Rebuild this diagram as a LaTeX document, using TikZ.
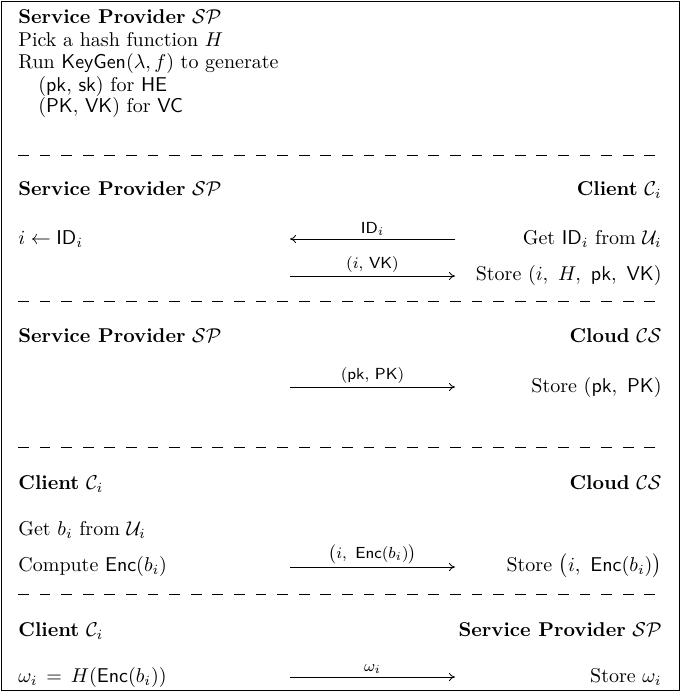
\documentclass[tikz,border=0pt]{standalone}
\usepackage{amsmath,amssymb}
\usetikzlibrary{arrows.meta,positioning}

\newcommand{\cSP}{\ensuremath{\mathcal{SP}}}
\newcommand{\cCS}{\ensuremath{\mathcal{CS}}}

\tikzset{
  lbl/.style={anchor=base west, inner sep=0pt},
  rbl/.style={anchor=base east, inner sep=0pt},
  msg/.style={-{To[length=3pt,width=4pt]}, line width=0.4pt},
  sepline/.style={dash pattern=on 5.4pt off 5.4pt, line width=0.4pt},
  tag/.style={font=\sffamily\footnotesize, above, inner sep=1.5pt}
}

\begin{document}
\begin{tikzpicture}[x=0.5pt, y=-0.5pt]
  \useasboundingbox (0,0) rectangle (680,691);
  \draw[line width=0.5pt] (1,1) rectangle (679,690);

  % Setup
  \node[lbl] (sp0) at (18,23) {\textbf{Service Provider} \cSP};
  \node[lbl] (hash) at (18,46) {Pick a hash function $H$};
  \node[lbl] (kgen) at (18,68) {Run $\mathsf{KeyGen}(\lambda, f)$ to generate};
  \node[lbl] (kHE) at (38,91) {$(\mathsf{pk},\, \mathsf{sk})$ for $\mathsf{HE}$};
  \node[lbl] (kVC) at (38,112) {$(\mathsf{PK},\, \mathsf{VK})$ for $\mathsf{VC}$};
  \coordinate (d1a) at (18,155); \coordinate (d1b) at (662,155);
  \draw[sepline] (d1a) -- (d1b);

  % Registration
  \node[lbl] (sp1) at (18,195) {\textbf{Service Provider} \cSP};
  \node[rbl] (cl1) at (662,195) {\textbf{Client} $\mathcal{C}_i$};
  \node[lbl] (idx) at (18,244) {$i \leftarrow \mathsf{ID}_i$};
  \node[rbl] (getid) at (662,244) {Get $\mathsf{ID}_i$ from $\mathcal{U}_i$};
  \node[rbl] (stvk) at (662,280) {Store $(i,\ H,\ \mathsf{pk},\ \mathsf{VK})$};
  \coordinate (m1a) at (455,239); \coordinate (m1b) at (290,239);
  \coordinate (m2a) at (290,276); \coordinate (m2b) at (455,276);
  \draw[msg] (m1a) -- node[tag] {$\mathsf{ID}_i$} (m1b);
  \draw[msg] (m2a) -- node[tag] {$(i,\,\mathsf{VK})$} (m2b);
  \coordinate (d2a) at (18,301); \coordinate (d2b) at (662,301);
  \draw[sepline] (d2a) -- (d2b);

  % Cloud setup
  \node[lbl] (sp2) at (18,342) {\textbf{Service Provider} \cSP};
  \node[rbl] (cs1) at (662,342) {\textbf{Cloud} \cCS};
  \node[rbl] (stpk) at (662,392) {Store $(\mathsf{pk},\ \mathsf{PK})$};
  \coordinate (m3a) at (290,387); \coordinate (m3b) at (455,387);
  \draw[msg] (m3a) -- node[tag] {$(\mathsf{pk},\,\mathsf{PK})$} (m3b);
  \coordinate (d3a) at (18,447); \coordinate (d3b) at (662,447);
  \draw[sepline] (d3a) -- (d3b);

  % Upload
  \node[lbl] (cl2) at (18,489) {\textbf{Client} $\mathcal{C}_i$};
  \node[rbl] (cs2) at (662,489) {\textbf{Cloud} \cCS};
  \node[lbl] (getb) at (18,535) {Get $b_i$ from $\mathcal{U}_i$};
  \node[lbl] (comp) at (18,571) {Compute $\mathsf{Enc}(b_i)$};
  \node[rbl] (stenc) at (662,571) {Store $\bigl(i,\ \mathsf{Enc}(b_i)\bigr)$};
  \coordinate (m4a) at (290,567); \coordinate (m4b) at (455,567);
  \draw[msg] (m4a) -- node[tag] {$\bigl(i,\ \mathsf{Enc}(b_i)\bigr)$} (m4b);
  \coordinate (d4a) at (18,594); \coordinate (d4b) at (662,594);
  \draw[sepline] (d4a) -- (d4b);

  % Digest
  \node[lbl] (cl3) at (18,636) {\textbf{Client} $\mathcal{C}_i$};
  \node[rbl] (sp3) at (662,636) {\textbf{Service Provider} \cSP};
  \node[lbl] (omg) at (18,682) {$\omega_i\, =\, H(\mathsf{Enc}(b_i))$};
  \node[rbl] (stom) at (662,682) {Store $\omega_i$};
  \coordinate (m5a) at (290,677); \coordinate (m5b) at (455,677);
  \draw[msg] (m5a) -- node[tag] {$\omega_i$} (m5b);
\end{tikzpicture}
\end{document}
